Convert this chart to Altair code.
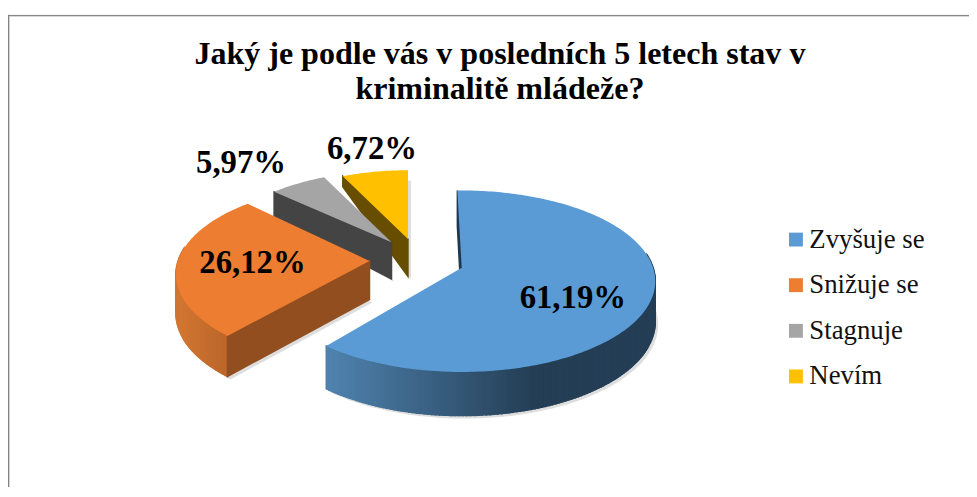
import math
import altair as alt

# ---- data ----
CATEGORIES = ["Zvyšuje se", "Snižuje se", "Stagnuje", "Nevím"]
VALUES = [61.19, 26.12, 5.97, 6.72]
LABELS = ["61,19%", "26,12%", "5,97%", "6,72%"]
TOP_COLORS = ["#5b9bd5", "#ed7d31", "#a5a5a5", "#ffc000"]
TITLE = ["Jaký je podle vás v posledních 5 letech stav v", "kriminalitě mládeže?"]

# ---- layout of the exploded 3-D pie (pixels inside the chart) ----
W, H = 969, 481
START_ANGLE = -1.5
A, B, K = 193.0, 89.5, 0.1475     # circle -> perspective ellipse
APEX = [(457.5, 260), (364.5, 253), (386.7, 234.2), (403.3, 231)]
SCALE = [1.0, 1.0, 0.92, 0.89]
# perspective turns the exploded wedges a little on screen (degrees at each end)
WIDEN = [(0, 0), (2.5, 2.5), (0, 0), (0, 1.5)]
DEPTH = [(40, 4), (39, 2.5), (37, 16), (37.7, 30)]
RADIAL_WALL = ["#1f3850", "#924e1e", "#444444", "#664d00"]
LABEL_POS = [(569.5, 300), (246.5, 265), (235, 164), (367, 150)]
FONT = "Liberation Serif"


def project(i, angle):
    t = math.radians(angle)
    u, v = math.sin(t), -math.cos(t)
    w = 1 - K * v
    s = SCALE[i]
    ax, ay = APEX[i]
    return ax + s * A * u / w, ay + s * B * v / w, v


def lower(i, pt):
    d0, d1 = DEPTH[i]
    return pt[0], pt[1] + d0 + d1 * pt[2]


def hexmix(c1, c2, t):
    t = max(0.0, min(1.0, t))
    a = [int(c1[j:j + 2], 16) for j in (1, 3, 5)]
    b = [int(c2[j:j + 2], 16) for j in (1, 3, 5)]
    return "#%02x%02x%02x" % tuple(round(x + (y - x) * t) for x, y in zip(a, b))


def outer_color(i, x):
    if i == 0:
        return hexmix("#4f82ae", "#243e55", (x - 324) / 205)
    return hexmix("#d07631", "#b8632a", (x - 174) / 55)


def feature(points, **props):
    ring = [[round(p[0], 2), round(p[1], 2)] for p in points]
    ring.append(ring[0])
    return {"type": "Feature", "geometry": {"type": "Polygon", "coordinates": [ring]},
            "properties": props}


spans, acc = [], START_ANGLE
for idx, value in enumerate(VALUES):
    spans.append((acc + WIDEN[idx][0], acc + value * 3.6 + WIDEN[idx][1]))
    acc += value * 3.6

tops, walls, shadows = [], [], []
for i in [3, 2, 0, 1]:
    a0, a1 = spans[i]
    n = max(6, int(a1 - a0))
    angles = [a0 + (a1 - a0) * j / n for j in range(n + 1)]
    rim = [project(i, a) for a in angles]
    apex = (APEX[i][0], APEX[i][1], 0.0)
    low = [lower(i, p) for p in rim]
    low_apex = lower(i, apex)
    shadows.append(feature([(x + 3, y + 3) for x, y in [low_apex] + low], fill="#dedede"))
    # only the wall parts that face the viewer are drawn
    for j in range(n):
        if rim[j][2] > -0.15 and rim[j + 1][2] > -0.15:
            col = outer_color(i, (rim[j][0] + rim[j + 1][0]) / 2)
            walls.append(feature([rim[j][:2], rim[j + 1][:2], low[j + 1], low[j]], fill=col))
    walls.append(feature([apex[:2], rim[0][:2], low[0], low_apex], fill=RADIAL_WALL[i]))
    tops.append(feature([apex[:2]] + [p[:2] for p in rim], category=CATEGORIES[i]))

proj = dict(type="identity", scale=1, translate=[0, 0])

shadow_layer = alt.Chart(alt.Data(values=shadows)).mark_geoshape(strokeWidth=0).encode(
    color=alt.Color("properties.fill:N", scale=None)).project(**proj)
wall_layer = alt.Chart(alt.Data(values=walls)).mark_geoshape(strokeWidth=1.5, opacity=1).encode(
    color=alt.Color("properties.fill:N", scale=None),
    stroke=alt.Stroke("properties.fill:N", scale=None)).project(**proj)
top_layer = alt.Chart(alt.Data(values=tops)).mark_geoshape(strokeWidth=0).encode(
    color=alt.Color("properties.category:N",
                    scale=alt.Scale(domain=CATEGORIES, range=TOP_COLORS),
                    sort=CATEGORIES,
                    legend=alt.Legend(title=None, orient="none", legendX=781, legendY=218,
                                      symbolType="square", symbolSize=196, symbolStrokeWidth=0,
                                      labelFont=FONT, labelFontSize=27, labelColor="#111111",
                                      labelOffset=0, rowPadding=18, padding=0))
).project(**proj)

label_rows = [{"text": t, "lon": p[0], "lat": p[1]} for t, p in zip(LABELS, LABEL_POS)]
label_layer = alt.Chart(alt.Data(values=label_rows)).mark_text(
    font=FONT, fontSize=33, fontWeight="bold", color="#000000", align="center",
    baseline="alphabetic").encode(
    longitude="lon:Q", latitude="lat:Q", text="text:N").project(**proj)

frame_dark = alt.Chart(alt.Data(values=[{"a": 0}])).mark_rule(color="#808080", strokeWidth=1)
frame_light = alt.Chart(alt.Data(values=[{"a": 0}])).mark_rule(color="#d4d4d4", strokeWidth=1)
frames = [
    frame_light.encode(x=alt.value(0), x2=alt.value(W), y=alt.value(6.5)),
    frame_light.encode(y=alt.value(5), y2=alt.value(H), x=alt.value(1.5)),
    frame_dark.encode(x=alt.value(0), x2=alt.value(W), y=alt.value(5.5)),
    frame_dark.encode(y=alt.value(5), y2=alt.value(H), x=alt.value(0.5)),
]

chart = alt.layer(
    shadow_layer, wall_layer, top_layer, label_layer, *frames
).resolve_scale(color="independent", stroke="independent").properties(
    width=W, height=H, padding=0, autosize=alt.AutoSizeParams(type="none"),
    title=alt.TitleParams(text=TITLE, font=FONT, fontSize=32.3, fontWeight="bold", color="#000000",
                          anchor="start", frame="group", align="center", dx=496, dy=122,
                          lineHeight=35, baseline="alphabetic", offset=0),
).configure_view(strokeWidth=0)

chart.save("out.html", embed_options={"renderer": "svg", "actions": False})
